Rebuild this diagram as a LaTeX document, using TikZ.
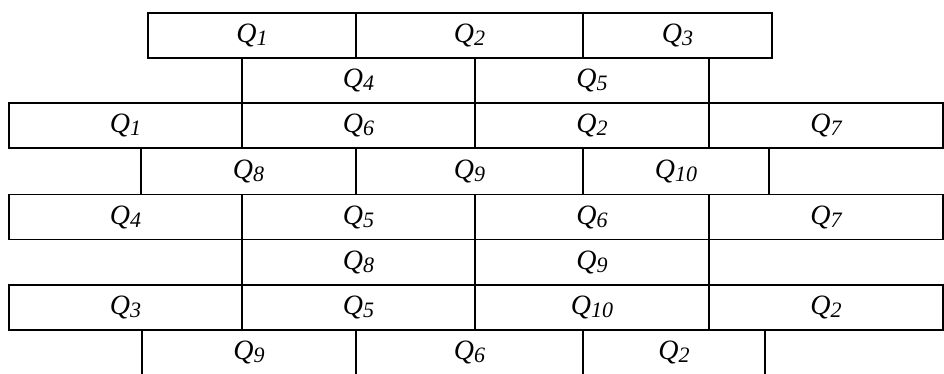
\documentclass[tikz,border=0pt]{standalone}
\usepackage{fontspec}
\setmainfont{Liberation Serif}
\newcommand{\qlab}[1]{Q\raisebox{-3pt}{\fontsize{22}{22}\selectfont #1}}
\tikzset{
  cell/.style={draw, line width=1.8pt, rectangle, inner sep=0pt, outer sep=0pt,
    minimum height=45pt, font=\fontsize{28}{30}\selectfont\itshape},
  gap/.style={cell, draw=none},
  edge/.style={line width=1.8pt},
}
\begin{document}
\begin{tikzpicture}[x=1pt, y=-1pt]
    \useasboundingbox (0,0) rectangle (944,374);

    % row 1
    \node[cell, minimum width=208pt] (r1a) at (252,35.5) {\qlab{1}};
    \node[cell, minimum width=227pt] (r1b) at (469.5,35.5) {\qlab{2}};
    \node[cell, minimum width=189pt] (r1c) at (677.5,35.5) {\qlab{3}};

    % row 2
    \node[gap, minimum width=233pt] (r2a) at (358.5,80.5) {\qlab{4}};
    \node[gap, minimum width=234pt] (r2b) at (592,80.5) {\qlab{5}};
    \draw[edge] (r2a.north west) -- (r2a.south west);
    \draw[edge] (r2b.north west) -- (r2b.south west);
    \draw[edge] (r2b.north east) -- (r2b.south east);

    % row 3
    \node[cell, minimum width=233pt] (r3a) at (125.5,125.75) {\qlab{1}};
    \node[cell, minimum width=233pt] (r3b) at (358.5,125.75) {\qlab{6}};
    \node[cell, minimum width=234pt] (r3c) at (592,125.75) {\qlab{2}};
    \node[cell, minimum width=234pt] (r3d) at (826,125.75) {\qlab{7}};

    % row 4
    \node[gap, minimum width=215pt] (r4a) at (248.5,171.5) {\qlab{8}};
    \node[gap, minimum width=227pt] (r4b) at (469.5,171.5) {\qlab{9}};
    \node[gap, minimum width=186pt] (r4c) at (676,171.5) {\qlab{10}};
    \draw[edge] (r4a.north west) -- (r4a.south west);
    \draw[edge] (r4b.north west) -- (r4b.south west);
    \draw[edge] (r4c.north west) -- (r4c.south west);
    \draw[edge] (r4c.north east) -- (r4c.south east);

    % row 5
    \node[cell, minimum width=233pt] (r5a) at (125.5,217) {\qlab{4}};
    \node[cell, minimum width=233pt] (r5b) at (358.5,217) {\qlab{5}};
    \node[cell, minimum width=234pt] (r5c) at (592,217) {\qlab{6}};
    \node[cell, minimum width=234pt] (r5d) at (826,217) {\qlab{7}};

    % row 6
    \node[gap, minimum width=233pt] (r6a) at (358.5,262.25) {\qlab{8}};
    \node[gap, minimum width=234pt] (r6b) at (592,262.25) {\qlab{9}};
    \draw[edge] (r6a.north west) -- (r6a.south west);
    \draw[edge] (r6b.north west) -- (r6b.south west);
    \draw[edge] (r6b.north east) -- (r6b.south east);

    % row 7
    \node[cell, minimum width=233pt] (r7a) at (125.5,307.5) {\qlab{3}};
    \node[cell, minimum width=233pt] (r7b) at (358.5,307.5) {\qlab{5}};
    \node[cell, minimum width=234pt] (r7c) at (592,307.5) {\qlab{10}};
    \node[cell, minimum width=234pt] (r7d) at (826,307.5) {\qlab{2}};

    % row 8
    \node[gap, minimum width=214pt] (r8a) at (249,352.5) {\qlab{9}};
    \node[gap, minimum width=227pt] (r8b) at (469.5,352.5) {\qlab{6}};
    \node[gap, minimum width=182pt] (r8c) at (674,352.5) {\qlab{2}};
    \draw[edge] (r8a.north west) -- (r8a.south west);
    \draw[edge] (r8b.north west) -- (r8b.south west);
    \draw[edge] (r8c.north west) -- (r8c.south west);
    \draw[edge] (r8c.north east) -- (r8c.south east);
\end{tikzpicture}
\end{document}
